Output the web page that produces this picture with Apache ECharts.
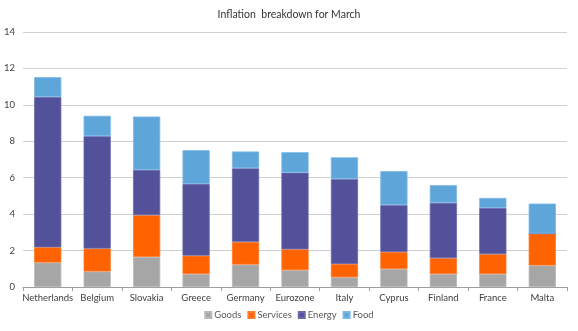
<!DOCTYPE html>
<html>
<head>
<meta charset="utf-8">
<script src="https://cdn.jsdelivr.net/npm/echarts@6/dist/echarts.min.js"></script>
<style>
  html, body { margin: 0; padding: 0; background: #fff; }
  #chart { width: 578px; height: 331px; }
</style>
</head>
<body>
<div id="chart"></div>
<script>
// Inflation breakdown (percentage points) for March
const countries = ['Netherlands', 'Belgium', 'Slovakia', 'Greece', 'Germany', 'Eurozone', 'Italy', 'Cyprus', 'Finland', 'France', 'Malta'];
const goods    = [1.34, 0.85, 1.65, 0.71, 1.23, 0.92, 0.53, 0.99, 0.71, 0.71, 1.18];
const services = [0.84, 1.26, 2.29, 1.01, 1.24, 1.15, 0.73, 0.93, 0.87, 1.09, 1.75];
const energy   = [8.26, 6.17, 2.49, 3.94, 4.05, 4.21, 4.67, 2.58, 3.04, 2.54, 0.00];
const food     = [1.08, 1.12, 2.93, 1.85, 0.92, 1.12, 1.19, 1.86, 0.97, 0.55, 1.65];
const yTicks   = [0, 2, 4, 6, 8, 10, 12, 14];

const font = 'Lato';
const chart = echarts.init(document.getElementById('chart'), null, { renderer: 'canvas' });

function bar(name, data, color, border) {
  return {
    name: name,
    type: 'bar',
    stack: 'total',
    data: data,
    barWidth: '55%',
    itemStyle: { color: color, borderColor: border, borderWidth: 0.8 },
    emphasis: { disabled: true }
  };
}

chart.setOption({
  animation: false,
  title: {
    text: 'Inflation  breakdown for March',
    left: 'center',
    top: 4,
    textStyle: { fontFamily: font, fontSize: 10.5, fontWeight: 'normal', color: '#333' }
  },
  legend: {
    bottom: 6,
    left: 'center',
    itemWidth: 6,
    itemHeight: 6,
    itemGap: 6,
    icon: 'rect',
    textStyle: { fontFamily: font, fontSize: 9.5, color: '#595959', padding: [0, 0, 0, -2] },
    data: ['Goods', 'Services', 'Energy', 'Food']
  },
  grid: { left: 23, right: 11, top: 32, bottom: 44, containLabel: false },
  xAxis: {
    type: 'category',
    data: countries,
    axisLine: { lineStyle: { color: '#9e9e9e', width: 1 } },
    axisTick: { show: true, length: 4, lineStyle: { color: '#9e9e9e' } },
    axisLabel: { fontFamily: font, fontSize: 9.5, color: '#404040', margin: 6, interval: 0 }
  },
  yAxis: {
    type: 'value',
    min: yTicks[0],
    max: yTicks[yTicks.length - 1],
    interval: 2,
    axisLine: { show: false },
    axisTick: { show: false },
    axisLabel: { fontFamily: font, fontSize: 9.5, color: '#404040', margin: 8 },
    splitLine: { lineStyle: { color: '#d0d0d0', width: 1 } }
  },
  series: [
    bar('Goods', goods, '#a6a6a6', '#b8b8b8'),
    bar('Services', services, '#ff6200', '#ff7a2a'),
    bar('Energy', energy, '#525199', '#6a69ad'),
    bar('Food', food, '#5ea6da', '#7ab8e4')
  ]
});
</script>
</body>
</html>
